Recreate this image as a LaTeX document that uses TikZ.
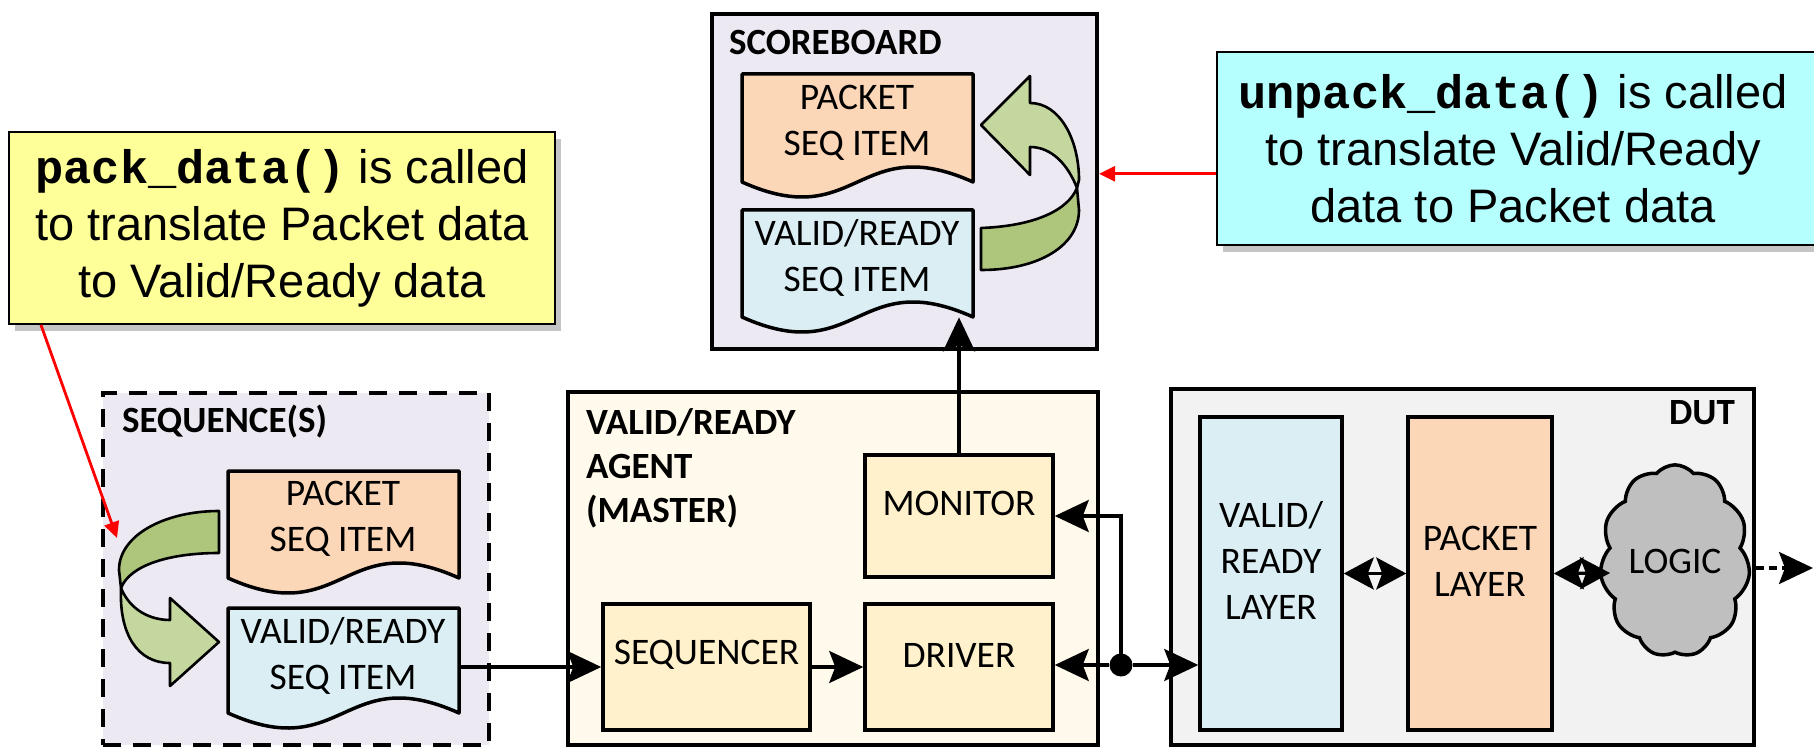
\documentclass[tikz,border=0pt]{standalone}
\usepackage{fontspec}
\setmainfont{Liberation Sans}
\setmonofont{Liberation Mono}
\newfontfamily\calib{Carlito}
\usetikzlibrary{arrows.meta,shapes.symbols,fit,shadows,calc}

\definecolor{lav}{RGB}{236,233,242}
\definecolor{agentbg}{RGB}{255,250,235}
\definecolor{agentbox}{RGB}{255,241,204}
\definecolor{dutbg}{RGB}{242,242,242}
\definecolor{peach}{RGB}{251,214,183}
\definecolor{lblue}{RGB}{218,238,243}
\definecolor{glight}{RGB}{196,215,158}
\definecolor{gdark}{RGB}{174,197,124}
\definecolor{lgray}{RGB}{191,191,191}
\definecolor{yel}{RGB}{255,255,153}
\definecolor{cyn}{RGB}{181,255,255}

\newcommand\docshape[6]{%
  \path[draw=black, line width=1.75pt, fill=#6, line join=round]
    (#2,#3) -- (#4,#3) -- (#4,#5)
    .. controls ({(#2+#4)/2},{#5-52}) and ({(#2+#4)/2},{#5+52}) .. (#2,#5) -- cycle;
  \node[fit={(#2,#3) (#4,#5)}, inner sep=0pt] (#1) {};
}

\tikzset{
  lab/.style={font=\calib\fontsize{18.75}{23}\selectfont, align=center},
  ttl/.style={font=\calib\bfseries\fontsize{18.5}{22}\selectfont, align=left},
  callf/.style={font=\fontsize{23.5}{28.5}\selectfont, align=center},
  frame/.style={inner sep=0pt, draw=black, line width=2pt},
  inbox/.style={inner sep=0pt, draw=black, line width=1.75pt},
  conn/.style={line width=1.6pt},
  garr/.style={draw=black, line width=1.3pt, line join=round},
  redarr/.style={draw=red, line width=1.4pt, -{Triangle[length=8pt,width=7.5pt]}},
  callout/.style={inner sep=0pt, draw=black, line width=0.9pt,
     drop shadow={shadow xshift=3pt, shadow yshift=-3.5pt, opacity=0.45}},
  >={Stealth[length=17pt,width=16pt,inset=3pt]},
  bid/.style={line width=1.6pt, {Stealth[length=15pt,width=16pt,inset=3pt]}-{Stealth[length=15pt,width=16pt,inset=3pt]}}
}

\begin{document}
\begin{tikzpicture}[x=0.5pt,y=-0.5pt]
\useasboundingbox (0,0) rectangle (1814,748);
\clip (0,0) rectangle (1814,748);
\fill[white] (0,0) rectangle (1814,748);

% ---------- Callouts ----------
\node[callout, fill=yel, fit={(9,132) (555,324)}] (YEL) {};
\node[callf] (YELt) at (YEL.center)
  {\textbf{\texttt{pack\_data()}} is called\\to translate Packet data\\to Valid/Ready data};

\node[callout, fill=cyn, fit={(1217,52) (1840,245)}] (CYN) {};
\node[callf] (CYNt) at (1513,149)
  {\textbf{\texttt{unpack\_data()}} is called\\to translate Valid/Ready\\data to Packet data};

% ---------- Scoreboard ----------
\node[frame, fill=lav, fit={(712,14) (1097,349)}] (SB) {};
\node[ttl, anchor=west] (SBt) at (722,43) {SCOREBOARD};
\docshape{sbPKdoc}{742}{74}{973}{182}{peach}
\node[lab] (sbPK) at (857,123) {PACKET\\SEQ ITEM};
\docshape{sbVRdoc}{742}{210}{973}{317}{lblue}
\node[lab] (sbVR) at (857,258) {VALID/READY\\SEQ ITEM};
% curved arrow (VR -> Packet)
\draw[garr, fill=gdark] (981,228) .. controls (1035,226) and (1068,210) .. (1077,188)
   -- (1079,210) .. controls (1079,245) and (1040,270) .. (981,270) -- cycle;
\draw[garr, fill=glight] (1077,188) .. controls (1068,165) and (1052,147) .. (1030,147)
   -- (1030,175) -- (981,125) -- (1030,76) -- (1030,103)
   .. controls (1060,103) and (1079,140) .. (1079,180) -- cycle;

% ---------- Sequences ----------
\node[frame, dash pattern=on 9pt off 6pt, fill=lav, fit={(103,393) (489,745)}] (SQ) {};
\node[ttl, anchor=west] (SQt) at (115,422) {SEQUENCE(S)};
\docshape{sPKdoc}{228}{471}{459}{578}{peach}
\node[lab] (sPK) at (343,519) {PACKET\\SEQ ITEM};
\docshape{sVRdoc}{228}{608}{459}{713}{lblue}
\node[lab] (sVR) at (343,656) {VALID/READY\\SEQ ITEM};
% curved arrow (Packet -> VR)
\draw[garr, fill=gdark] (219,511) .. controls (165,511) and (119,535) .. (119,570)
   -- (121,588) .. controls (130,565) and (170,553) .. (219,553) -- cycle;
\draw[garr, fill=glight] (121,588) .. controls (130,610) and (150,620) .. (170,620)
   -- (170,598) -- (219,642) -- (170,686) -- (170,663)
   .. controls (138,663) and (119,635) .. (121,588) -- cycle;

% ---------- Agent ----------
\node[frame, fill=agentbg, fit={(568,392) (1098,745)}] (AG) {};
\node[ttl, anchor=west] (AGt) at (579,468) {VALID/READY\\AGENT\\(MASTER)};
\node[inbox, fill=agentbox, fit={(865,455) (1053,577)}, lab] (MON) {MONITOR};
\node[inbox, fill=agentbox, fit={(603,604) (810,730)}, lab] (SEQ) {SEQUENCER};
\node[inbox, fill=agentbox, fit={(865,604) (1053,730)}, lab] (DRV) {DRIVER};

% ---------- DUT ----------
\node[frame, fill=dutbg, fit={(1171,389) (1754,745)}] (DUT) {};
\node[ttl, anchor=east] (DUTt) at (1742,413) {DUT};
\node[inbox, fill=lblue, fit={(1200,417) (1342,730)}, lab] (VRL) {VALID/\\READY\\LAYER};
\node[inbox, fill=peach, fit={(1408,417) (1552,730)}, lab] (PKL) {PACKET\\LAYER};
\node[cloud, cloud puffs=11, cloud puff arc=100, aspect=0.72, draw=black, line width=1.75pt,
      fill=lgray, minimum width=62pt, minimum height=82pt, inner sep=0pt, lab] (LOG) at (1675,561) {LOGIC};
\coordinate (outR) at (1813,568);
\coordinate (logL) at (1610,573);

% ---------- Connectors ----------
\draw[conn,->] (sVRdoc.east |- SEQ.west) -- (SEQ.west);
\draw[conn,->] (SEQ.east) -- (DRV.west);
\draw[conn,->] (MON.north) -- (MON.north |- sbVRdoc.south);
\node[circle, fill=black, inner sep=0pt, minimum size=11.5pt] (J) at (1121,665) {};
\draw[conn,->] (J) -- (J -| DRV.east);
\draw[conn,->] (J) -- (J -| VRL.west);
\draw[conn,->] (J.center) |- (MON.east);
\draw[bid] (VRL.east) -- (PKL.west);
\draw[bid] (PKL.east) -- (logL);
\draw[line width=1.6pt, dash pattern=on 4pt off 2.5pt,->] (DUT.east |- outR) -- (outR);

% red pointers
\coordinate (rTip) at (117,538);
\coordinate (yS) at ($(YEL.south west)!0.06!(YEL.south east)$);
\coordinate (cW) at ($(CYN.north west)!0.63!(CYN.south west)$);
\draw[redarr] (yS) -- (rTip);
\draw[redarr] (cW) -- (cW -| SB.east);
\end{tikzpicture}
\end{document}
